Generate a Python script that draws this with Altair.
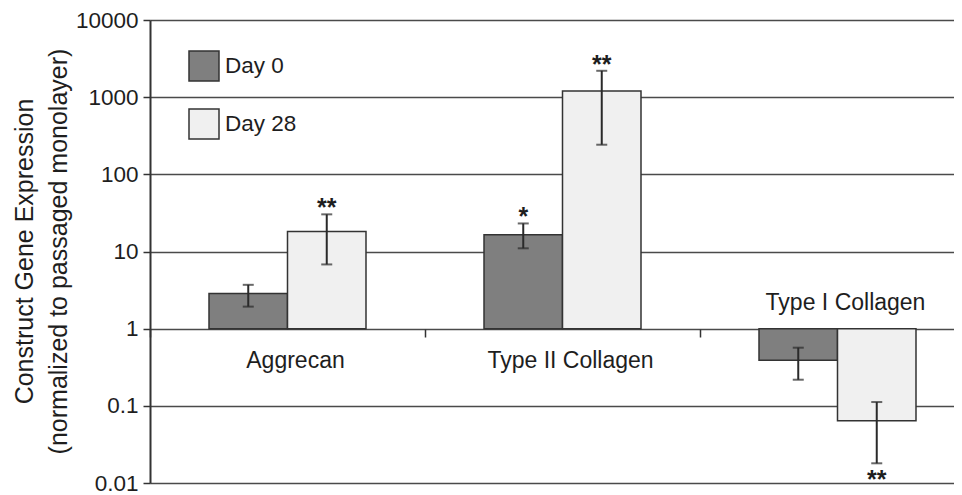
import altair as alt
import pandas as pd

genes = ["Aggrecan", "Type II Collagen", "Type I Collagen"]
days = ["Day 0", "Day 28"]
mean_day0 = [2.85, 16.5, 0.39]
mean_day28 = [18.2, 1200, 0.064]
lo_day0 = [1.93, 11.0, 0.218]
hi_day0 = [3.7, 23.1, 0.567]
lo_day28 = [6.8, 242, 0.018]
hi_day28 = [30.3, 2197, 0.112]
stars_day0 = ["", "*", ""]
stars_day28 = ["**", "**", "**"]
y_ticks = [0.01, 0.1, 1, 10, 100, 1000, 10000]

rows = []
for i, g in enumerate(genes):
    rows.append(dict(gene=g, day="Day 0", value=mean_day0[i], lo=lo_day0[i], hi=hi_day0[i], star=stars_day0[i]))
    rows.append(dict(gene=g, day="Day 28", value=mean_day28[i], lo=lo_day28[i], hi=hi_day28[i], star=stars_day28[i]))
df = pd.DataFrame(rows)
df["above"] = df["value"] >= 1
star_up = df[(df["star"] != "") & df["above"]]
star_down = df[(df["star"] != "") & ~df["above"]]

lab = pd.DataFrame({"gene": genes, "d0": mean_day0})
lab_below = lab[lab["d0"] >= 1]
lab_above = lab[lab["d0"] < 1]

FONT = "Liberation Sans"
DARK = "#2a2a2a"
TXT = "#1e1e1e"

x_scale = alt.Scale(domain=genes, range=[0, 825], paddingInner=0, paddingOuter=0)
xo_scale = alt.Scale(domain=days, paddingInner=0, paddingOuter=0.7516)
y_scale = alt.Scale(type="log", domain=[0.01, 10000], nice=False)
color_scale = alt.Scale(domain=days, range=["#7f7f7f", "#f0f0f0"])

x_axis = alt.Axis(offset=-154, bandPosition=0, labels=False, domain=False,
                  ticks=True, tickSize=8, tickWidth=1.5, tickColor="#333", grid=False,
                  title=None)
y_axis = alt.Axis(
    values=y_ticks, labelExpr="format(datum.value, '')",
    grid=True, gridColor="#4a4a4a", gridWidth=1.6,
    domainColor="#333", domainWidth=2, tickColor="#333", tickWidth=1.5,
    tickSize=7, labelPadding=5, labelFontSize=22.5, labelColor=TXT,
    labelFont=FONT, titleFont=FONT, titleFontSize=25, titleFontWeight="normal",
    titleColor=TXT, titleLineHeight=34, titleAngle=-90, titleBaseline="top",
    titleAlign="center", titleX=-138, titleY=231,
    title=["Construct Gene Expression", "(normalized to passaged monolayer)"],
)


def X():
    return alt.X("gene:N", scale=x_scale, sort=genes, axis=x_axis)


def Y(field):
    return alt.Y(field, scale=y_scale, axis=y_axis)


xo = alt.XOffset("day:N", scale=xo_scale, sort=days)

bars = alt.Chart(df).mark_bar(stroke="#333", strokeWidth=1.5).encode(
    x=X(),
    xOffset=xo,
    y=Y("value:Q"),
    y2=alt.datum(1),
    fill=alt.Fill(
        "day:N", scale=color_scale, sort=days,
        legend=alt.Legend(
            orient="none", legendX=38, legendY=30, title=None, symbolType="square",
            symbolSize=900, symbolStrokeColor="#333", symbolStrokeWidth=1.5,
            labelFontSize=22.5, labelFont=FONT, labelColor=TXT, labelOffset=5,
            rowPadding=22, padding=0,
        ),
    ),
)

err = alt.Chart(df).mark_rule(color=DARK, strokeWidth=2).encode(
    x=X(), xOffset=xo, y=Y("lo:Q"), y2="hi:Q",
)
cap_lo = alt.Chart(df).mark_tick(color=DARK, thickness=2, size=11, orient="horizontal").encode(
    x=X(), xOffset=xo, y=Y("lo:Q"),
)
cap_hi = alt.Chart(df).mark_tick(color=DARK, thickness=2, size=11, orient="horizontal").encode(
    x=X(), xOffset=xo, y=Y("hi:Q"),
)

stars_up = alt.Chart(star_up).mark_text(font=FONT, fontSize=25, fontWeight="bold", color=TXT,
                                        baseline="alphabetic", dy=2).encode(
    x=X(), xOffset=xo, y=Y("hi:Q"), text="star:N",
)
stars_dn = alt.Chart(star_down).mark_text(font=FONT, fontSize=25, fontWeight="bold", color=TXT,
                                          baseline="alphabetic", dy=25).encode(
    x=X(), xOffset=xo, y=Y("lo:Q"), text="star:N",
)

labels_below = alt.Chart(lab_below).mark_text(font=FONT, fontSize=23, color=TXT, baseline="middle",
                                              dx=8, dy=32).encode(
    x=X(), y=alt.datum(1), text="gene:N",
)
labels_above = alt.Chart(lab_above).mark_text(font=FONT, fontSize=23, color=TXT, baseline="middle",
                                              dx=8, dy=-26).encode(
    x=X(), y=alt.datum(1), text="gene:N",
)

chart = alt.layer(bars, err, cap_lo, cap_hi, stars_up, stars_dn, labels_below, labels_above).properties(
    width=804, height=463,
    autosize=alt.AutoSizeParams(type="none"),
    padding={"left": 142, "top": 12, "right": 0, "bottom": 12},
    background="white",
).configure_view(strokeOpacity=0).configure(font=FONT)

chart.save("out.html", embed_options={"renderer": "svg", "actions": False})
